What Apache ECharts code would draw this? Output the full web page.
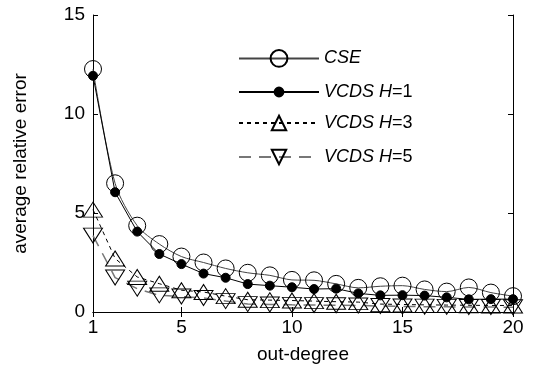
<!DOCTYPE html>
<html>
<head>
<meta charset="utf-8">
<script src="https://cdn.jsdelivr.net/npm/echarts@6/dist/echarts.min.js"></script>
<style>
    html, body { margin: 0; padding: 0; background: #fff; }
    #chart { width: 543px; height: 374px; }
</style>
</head>
<body>
<div id="chart"></div>
<script>
const outDegree = [1, 2, 3, 4, 5, 6, 7, 8, 9, 10, 11, 12, 13, 14, 15, 16, 17, 18, 19, 20]
const xTickValues = [1, 5, 10, 15, 20]

const cse = [12.27, 6.5, 4.36, 3.43, 2.8, 2.5, 2.2, 1.98, 1.85, 1.62, 1.6, 1.42, 1.22, 1.3, 1.33, 1.14, 1.03, 1.24, 0.98, 0.8]
const vcdsH1 = [11.93, 6.05, 4.06, 2.93, 2.42, 1.94, 1.73, 1.41, 1.33, 1.25, 1.16, 1.18, 0.94, 0.84, 0.85, 0.83, 0.74, 0.64, 0.65, 0.65]
const vcdsH3 = [5.17, 2.7, 1.77, 1.43, 1.1, 1.01, 0.8, 0.62, 0.6, 0.58, 0.55, 0.52, 0.5, 0.4, 0.38, 0.36, 0.35, 0.34, 0.33, 0.33]
const vcdsH5 = [3.86, 1.74, 1.18, 0.84, 0.78, 0.71, 0.55, 0.4, 0.38, 0.36, 0.35, 0.34, 0.33, 0.3, 0.28, 0.27, 0.26, 0.25, 0.25, 0.24]

const seriesNames = ['CSE', 'VCDS H=1', 'VCDS H=3', 'VCDS H=5']

const FONT = 'Liberation Sans, Arial, sans-serif'

function toPairs(values) {
    return values.map((v, i) => [outDegree[i], v])
}

function legendLabel(name) {
    if (name === 'CSE') {
        return '{i|CSE}'
    }
    // "VCDS H=1" -> italic part + upright part
    return '{i|VCDS H}{n|' + name.slice(6) + '}'
}

// one legend per series so each keeps its own marker size
// (legend marker = 0.8 * itemHeight)
function makeLegend(name, centerY, itemHeight) {
    return {
        orient: 'vertical',
        left: 233,
        top: centerY - 13,
        itemWidth: 80,
        itemHeight: itemHeight,
        data: [name],
        formatter: legendLabel,
        textStyle: {
            fontFamily: FONT,
            fontSize: 18,
            color: '#000',
            rich: {
                i: { fontStyle: 'italic', fontFamily: FONT, fontSize: 18, color: '#000' },
                n: { fontFamily: FONT, fontSize: 18, color: '#000' },
            },
        },
    }
}

const chart = echarts.init(document.getElementById('chart'))

const option = {
    animation: false,
    backgroundColor: '#fff',
    grid: {
        left: 93,
        right: 30,
        top: 15,
        bottom: 62,
    },
    legend: [
        makeLegend(seriesNames[0], 57, 21),
        makeLegend(seriesNames[1], 91, 11),
        makeLegend(seriesNames[2], 122, 18),
        makeLegend(seriesNames[3], 156, 18),
    ],
    xAxis: [
        {
            type: 'value',
            min: 1,
            max: 20,
            name: 'out-degree',
            nameLocation: 'middle',
            nameGap: 33,
            nameTextStyle: { fontFamily: FONT, fontSize: 19, color: '#000' },
            axisLine: { lineStyle: { color: '#000', width: 1 } },
            axisTick: { inside: true, length: 5, customValues: xTickValues, lineStyle: { color: '#000' } },
            axisLabel: { customValues: xTickValues, fontFamily: FONT, fontSize: 19, color: '#000', margin: 6 },
            splitLine: { show: false },
        },
        {
            type: 'value',
            position: 'top',
            min: 1,
            max: 20,
            axisLine: { lineStyle: { color: '#000', width: 1 } },
            axisTick: { inside: true, length: 5, customValues: xTickValues, lineStyle: { color: '#000' } },
            axisLabel: { show: false },
            splitLine: { show: false },
        },
    ],
    yAxis: [
        {
            type: 'value',
            min: 0,
            max: 15,
            interval: 5,
            name: 'average relative error',
            nameLocation: 'middle',
            nameGap: 63,
            nameTextStyle: { fontFamily: FONT, fontSize: 19, color: '#000' },
            axisLine: { show: true, lineStyle: { color: '#000', width: 1 } },
            axisTick: { show: true, inside: true, length: 5, lineStyle: { color: '#000' } },
            axisLabel: { fontFamily: FONT, fontSize: 19, color: '#000', margin: 8 },
            splitLine: { show: false },
        },
        {
            type: 'value',
            position: 'right',
            min: 0,
            max: 15,
            interval: 5,
            axisLine: { show: true, lineStyle: { color: '#000', width: 1 } },
            axisTick: { show: true, inside: true, length: 5, lineStyle: { color: '#000' } },
            axisLabel: { show: false },
            splitLine: { show: false },
        },
    ],
    series: [
        {
            name: seriesNames[0],
            type: 'line',
            data: toPairs(cse),
            smooth: 0.3,
            clip: false,
            symbol: 'circle',
            symbolSize: 17,
            lineStyle: { color: '#444', width: 1 },
            itemStyle: { color: 'rgba(255,255,255,0)', borderColor: '#000', borderWidth: 1 },
            z: 2,
        },
        {
            name: seriesNames[1],
            type: 'line',
            data: toPairs(vcdsH1),
            clip: false,
            symbol: 'circle',
            symbolSize: 9,
            lineStyle: { color: '#000', width: 1 },
            itemStyle: { color: '#000', borderColor: '#000', borderWidth: 1 },
            z: 3,
        },
        {
            name: seriesNames[2],
            type: 'line',
            data: toPairs(vcdsH3),
            clip: false,
            symbol: 'triangle',
            symbolSize: [19, 15],
            lineStyle: { color: '#000', width: 1, type: [4, 4] },
            itemStyle: { color: 'rgba(255,255,255,0)', borderColor: '#000', borderWidth: 1 },
            z: 2,
        },
        {
            name: seriesNames[3],
            type: 'line',
            data: toPairs(vcdsH5),
            clip: false,
            symbol: 'triangle',
            symbolRotate: 180,
            symbolSize: [19, 15],
            lineStyle: { color: '#777', width: 1.5, type: [12, 8] },
            itemStyle: { color: 'rgba(255,255,255,0)', borderColor: '#000', borderWidth: 1 },
            z: 2,
        },
    ],
}

chart.setOption(option)
</script>
</body>
</html>
